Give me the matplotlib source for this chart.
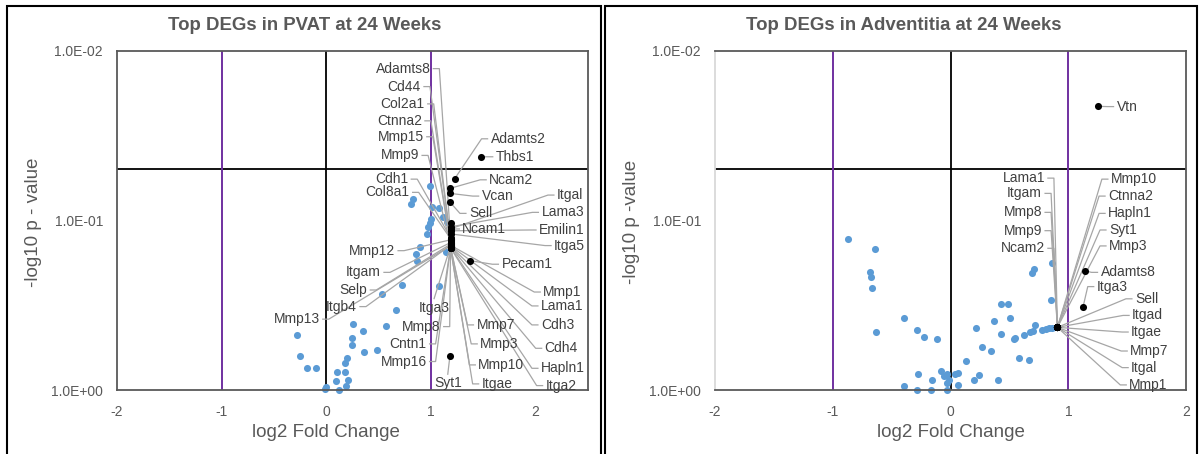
import matplotlib.pyplot as plt
from matplotlib.patches import Rectangle
from matplotlib.ticker import FixedLocator, FuncFormatter, NullLocator

plt.rcParams['font.family'] = ['Liberation Sans', 'DejaVu Sans']

# ---- PVAT, 24 weeks ----
# unlabelled genes (blue)
pvat_bg_fc = [0.99, 0.835, 0.81, 1.014, 1.078, 1.117, 1.0, 1.155, 0.99, 0.976,
              0.963, 0.9, 0.855, 1.143, 0.873, 0.724, 1.083, 0.536, 0.67, 0.255,
              0.577, 0.357, -0.274, 0.249, 0.249, 0.364, 0.491, -0.246, 0.198, 0.179,
              -0.182, -0.096, 0.108, 0.179, 0.096, 0.213, 0.188, 0.0, -0.006, 0.121]
pvat_bg_p = [0.0624, 0.0746, 0.080, 0.083, 0.0847, 0.0957, 0.0984, 0.1016, 0.104, 0.109,
             0.120, 0.144, 0.158, 0.153, 0.173, 0.239, 0.244, 0.270, 0.336, 0.406,
             0.421, 0.447, 0.472, 0.491, 0.545, 0.597, 0.581, 0.628, 0.646, 0.690,
             0.738, 0.738, 0.780, 0.780, 0.889, 0.877, 0.946, 0.955, 0.982, 1.0]

# labelled genes (black)
pvat_genes = ['Adamts8', 'Cd44', 'Col2a1', 'Ctnna2', 'Mmp15', 'Mmp9', 'Adamts2', 'Thbs1',
              'Cdh1', 'Col8a1', 'Ncam2', 'Vcan', 'Itgal', 'Sell', 'Lama3', 'Ncam1',
              'Emilin1', 'Itga5', 'Mmp12', 'Pecam1', 'Itgam', 'Mmp1', 'Selp', 'Lama1',
              'Itgb4', 'Itga3', 'Cdh3', 'Mmp13', 'Mmp8', 'Mmp7', 'Mmp3', 'Cdh4',
              'Cntn1', 'Mmp16', 'Mmp10', 'Hapln1', 'Syt1', 'Itgae', 'Itga2']
pvat_gene_fc = [1.19, 1.19, 1.19, 1.19, 1.19, 1.19, 1.228, 1.477,
                1.19, 1.19, 1.187, 1.187, 1.19, 1.187, 1.19, 1.19,
                1.19, 1.19, 1.19, 1.378, 1.19, 1.19, 1.19, 1.19,
                1.19, 1.19, 1.19, 1.19, 1.19, 1.19, 1.19, 1.19,
                1.19, 1.19, 1.19, 1.19, 1.184, 1.19, 1.19]
pvat_gene_p = [0.128, 0.130, 0.132, 0.134, 0.136, 0.138, 0.0569, 0.0421,
               0.126, 0.128, 0.0646, 0.0692, 0.112, 0.0782, 0.109, 0.104,
               0.115, 0.120, 0.130, 0.1726, 0.135, 0.140, 0.138, 0.141,
               0.140, 0.142, 0.142, 0.141, 0.143, 0.143, 0.144, 0.143,
               0.144, 0.145, 0.145, 0.144, 0.631, 0.145, 0.145]

# ---- Adventitia, 24 weeks ----
adv_bg_fc = [-0.875, -0.64, -0.688, -0.68, -0.668, -0.4, -0.634, -0.286, -0.229, -0.119,
             0.212, 0.365, 0.263, 0.34, 0.13, -0.085, -0.277, -0.057, -0.028, 0.037,
             0.062, 0.2, 0.238, -0.017, -0.034, 0.059, -0.396, -0.159, -0.286, -0.17,
             -0.034, 0.405, 0.864, 0.708, 0.69, 0.855, 0.425, 0.487, 0.504, 0.43,
             0.62, 0.671, 0.696, 0.719, 0.773, 0.807, 0.835, 0.864, 0.538, 0.55,
             0.577, 0.668]
adv_bg_p = [0.1285, 0.1466, 0.2014, 0.2148, 0.2489, 0.374, 0.457, 0.443, 0.484, 0.500,
            0.431, 0.394, 0.555, 0.589, 0.675, 0.769, 0.802, 0.826, 0.805, 0.802,
            0.798, 0.873, 0.813, 0.873, 0.914, 0.933, 0.951, 0.877, 1.0, 1.0,
            1.0, 0.877, 0.1774, 0.1932, 0.2032, 0.293, 0.312, 0.312, 0.376, 0.466,
            0.472, 0.457, 0.451, 0.415, 0.443, 0.437, 0.433, 0.431, 0.502, 0.493,
            0.650, 0.668]

adv_genes = ['Vtn', 'Lama1', 'Itgam', 'Mmp8', 'Mmp9', 'Ncam2', 'Mmp10', 'Ctnna2',
             'Hapln1', 'Syt1', 'Mmp3', 'Adamts8', 'Itga3', 'Sell', 'Itgad', 'Itgae',
             'Mmp7', 'Itgal', 'Mmp1']
adv_gene_fc = [1.247, 0.906, 0.906, 0.906, 0.906, 0.906, 0.906, 0.906,
               0.906, 0.906, 0.906, 1.139, 1.123, 0.906, 0.906, 0.906,
               0.906, 0.906, 0.906]
adv_gene_p = [0.0212, 0.427, 0.427, 0.427, 0.427, 0.427, 0.427, 0.427,
              0.427, 0.427, 0.427, 0.198, 0.325, 0.427, 0.427, 0.427,
              0.427, 0.427, 0.427]

# label placement in axes fraction: (x, y, side the leader leaves from)
pvat_layout = {
    'Adamts8': (0.666, 0.948, 'right'), 'Cd44': (0.646, 0.895, 'right'),
    'Col2a1': (0.654, 0.844, 'right'), 'Ctnna2': (0.648, 0.794, 'right'),
    'Mmp15': (0.652, 0.747, 'right'), 'Mmp9': (0.642, 0.692, 'right'),
    'Adamts2': (0.794, 0.741, 'left'), 'Thbs1': (0.805, 0.688, 'left'),
    'Cdh1': (0.619, 0.622, 'right'), 'Col8a1': (0.622, 0.583, 'right'),
    'Ncam2': (0.791, 0.620, 'left'), 'Vcan': (0.775, 0.572, 'left'),
    'Itgal': (0.935, 0.575, 'left'), 'Sell': (0.748, 0.521, 'left'),
    'Lama3': (0.902, 0.524, 'left'), 'Ncam1': (0.734, 0.475, 'left'),
    'Emilin1': (0.897, 0.472, 'left'), 'Itga5': (0.929, 0.426, 'left'),
    'Mmp12': (0.591, 0.411, 'right'), 'Pecam1': (0.817, 0.371, 'left'),
    'Itgam': (0.561, 0.347, 'right'), 'Mmp1': (0.906, 0.289, 'left'),
    'Selp': (0.532, 0.295, 'right'), 'Lama1': (0.901, 0.248, 'left'),
    'Itgb4': (0.510, 0.246, 'right'), 'Itga3': (0.674, 0.243, 'top'),
    'Cdh3': (0.901, 0.192, 'left'), 'Mmp13': (0.431, 0.209, 'right'),
    'Mmp8': (0.688, 0.187, 'right'), 'Mmp7': (0.764, 0.192, 'left'),
    'Mmp3': (0.772, 0.136, 'left'), 'Cdh4': (0.909, 0.123, 'left'),
    'Cntn1': (0.658, 0.136, 'right'), 'Mmp16': (0.658, 0.084, 'right'),
    'Mmp10': (0.768, 0.074, 'left'), 'Hapln1': (0.901, 0.064, 'left'),
    'Syt1': (0.703, 0.020, 'top'), 'Itgae': (0.775, 0.018, 'left'),
    'Itga2': (0.911, 0.013, 'left'),
}
adv_layout = {
    'Vtn': (0.852, 0.836, 'left'),
    'Lama1': (0.700, 0.625, 'right'), 'Itgam': (0.694, 0.580, 'right'),
    'Mmp8': (0.694, 0.524, 'right'), 'Mmp9': (0.694, 0.470, 'right'),
    'Ncam2': (0.700, 0.418, 'right'),
    'Mmp10': (0.840, 0.622, 'left'), 'Ctnna2': (0.834, 0.572, 'left'),
    'Hapln1': (0.834, 0.521, 'left'), 'Syt1': (0.836, 0.472, 'left'),
    'Mmp3': (0.836, 0.425, 'left'), 'Adamts8': (0.818, 0.347, 'left'),
    'Itga3': (0.810, 0.305, 'left'), 'Sell': (0.891, 0.269, 'left'),
    'Itgad': (0.885, 0.220, 'left'), 'Itgae': (0.883, 0.171, 'left'),
    'Mmp7': (0.881, 0.115, 'left'), 'Itgal': (0.883, 0.066, 'left'),
    'Mmp1': (0.879, 0.015, 'left'),
}

GREY = '#595959'
BLUE = '#5B9BD5'
PURPLE = '#7030A0'
LEADER = '#a6a6a6'


def volcano(ax, title_x, title, ylabel, xlabel_x, bg_fc, bg_p, genes, g_fc, g_p,
            layout, xmax, left_spine_color):
    ax.set_yscale('log')
    ax.set_xlim(-2, xmax)
    ax.set_ylim(1.0, 0.01)
    ax.xaxis.set_major_locator(FixedLocator([-2, -1, 0, 1, 2]))
    ax.yaxis.set_major_locator(FixedLocator([0.01, 0.1, 1.0]))
    ax.yaxis.set_minor_locator(NullLocator())
    ax.yaxis.set_major_formatter(FuncFormatter(lambda v, pos: f'{v:.1E}'))
    ax.xaxis.set_major_formatter(FuncFormatter(lambda v, pos: f'{v:g}'))
    ax.tick_params(length=0, labelsize=10, labelcolor=GREY)
    ax.tick_params(axis='y', pad=10)
    ax.tick_params(axis='x', pad=11)
    for side in ['top', 'right', 'bottom']:
        ax.spines[side].set_color(GREY)
        ax.spines[side].set_linewidth(1.3)
    ax.spines['left'].set_color(left_spine_color)
    ax.spines['left'].set_linewidth(1.3)

    # thresholds
    ax.axhline(0.05, color='black', lw=1.3, zorder=1)
    ax.axvline(0, color='black', lw=1.3, zorder=1)
    ax.axvline(-1, color=PURPLE, lw=1.4, zorder=1)
    ax.axvline(1, color=PURPLE, lw=1.4, zorder=1)

    ax.scatter(bg_fc, bg_p, s=26, color=BLUE, lw=0, zorder=2, clip_on=False)
    ax.scatter(g_fc, g_p, s=26, color='black', lw=0, zorder=4, clip_on=False)

    # gene labels with leader lines
    w, h = ax.bbox.width, ax.bbox.height
    to_axes = ax.transAxes.inverted()
    for name, fc, p in zip(genes, g_fc, g_p):
        tx, ty, side = layout[name]
        px, py = to_axes.transform(ax.transData.transform((fc, p)))
        if side == 'left':
            x0 = tx - 3 / w
            xs, ys = [x0, x0 - 6 / w, px], [ty, ty, py]
            ha = 'left'
        elif side == 'right':
            x0 = tx + 3 / w
            xs, ys = [x0, x0 + 6 / w, px], [ty, ty, py]
            ha = 'right'
        else:
            xs, ys = [tx, px], [ty + 9 / h, py]
            ha = 'center'
        ax.plot(xs, ys, color=LEADER, lw=0.9, transform=ax.transAxes, zorder=3,
                clip_on=False)
        ax.text(tx, ty, name, ha=ha, va='center', fontsize=10, color='#404040',
                transform=ax.transAxes, zorder=5)

    ax.text(xlabel_x, -0.126, 'log2 Fold Change', ha='center', va='center',
            fontsize=13.5, color=GREY, transform=ax.transAxes)
    ax.text(-0.178, 0.495, ylabel, ha='center', va='center', rotation=90,
            fontsize=13.5, color=GREY, transform=ax.transAxes)
    fig.text(title_x, 1 - 26 / 454, title, ha='center', va='center',
             fontsize=13.4, fontweight='bold', color=GREY)


fig = plt.figure(figsize=(12, 4.54), dpi=100)

ax1 = fig.add_axes([117 / 1200, 1 - 390 / 454, 470.5 / 1200, 339 / 454])
ax2 = fig.add_axes([715 / 1200, 1 - 390 / 454, 471.3 / 1200, 339 / 454])

volcano(ax1, 305 / 1200, 'Top DEGs in PVAT at 24 Weeks', '-log10 p - value', 0.444,
        pvat_bg_fc, pvat_bg_p, pvat_genes, pvat_gene_fc, pvat_gene_p,
        pvat_layout, 2.5, GREY)
volcano(ax2, 904 / 1200, 'Top DEGs in Adventitia at 24 Weeks', '-log10 p -value', 0.5,
        adv_bg_fc, adv_bg_p, adv_genes, adv_gene_fc, adv_gene_p,
        adv_layout, 2.0, '#d9d9d9')

# chart borders
fig.patches.append(Rectangle((7 / 1200, -0.05), 594 / 1200, 1.05 - 6 / 454,
                             transform=fig.transFigure, fill=False, ec='black', lw=1.5))
fig.patches.append(Rectangle((605 / 1200, -0.05), 592 / 1200, 1.05 - 6 / 454,
                             transform=fig.transFigure, fill=False, ec='black', lw=1.5))

fig.savefig('out.png', dpi=100)
